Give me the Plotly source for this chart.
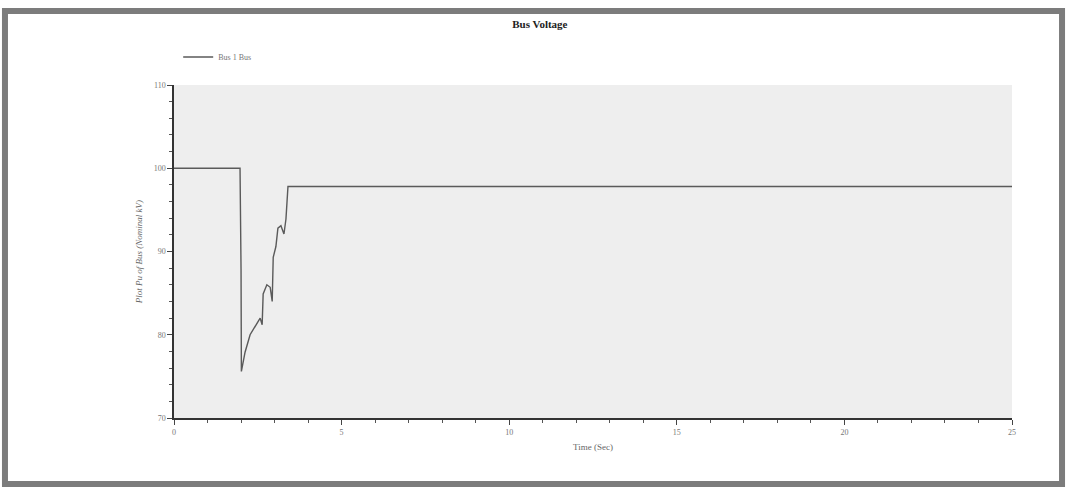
import plotly.graph_objects as go

# Bus voltage trace (percent of nominal) versus time in seconds
time_s = [0.0, 1.97, 2.0, 2.01, 2.12, 2.27, 2.57, 2.63, 2.66, 2.77, 2.87, 2.93,
          2.96, 3.04, 3.10, 3.19, 3.28, 3.34, 3.40, 3.46, 25.0]
voltage = [100.0, 100.0, 87.9, 75.6, 77.9, 80.0, 82.0, 81.2, 84.9, 86.0, 85.7, 84.0,
           89.3, 90.6, 92.8, 93.1, 92.1, 93.9, 97.8, 97.8, 97.8]

series_name = "Bus 1 Bus"
title_text = "Bus Voltage"
x_title = "Time (Sec)"
y_title = "Plot Pu of Bus (Nominal kV)"

serif = "Liberation Serif"

fig = go.Figure()
fig.add_trace(go.Scatter(
    x=time_s, y=voltage, mode="lines", name=series_name,
    line=dict(color="#5a5a5a", width=1.4),
))

# page frame around the chart
fig.add_shape(type="rect", xref="paper", yref="paper",
              x0=-0.2017, x1=1.0597, y0=-0.1982, y1=1.2222,
              line=dict(color="#7c7c7c", width=6), layer="below")

fig.update_layout(
    width=1069, height=489,
    margin=dict(l=174, r=57, t=85, b=71),
    paper_bgcolor="white",
    plot_bgcolor="#eeeeee",
    font=dict(family=serif, color="#333333", size=9),
    title=dict(text="<b>" + title_text + "</b>", x=0.505, xanchor="center",
               y=0.951, yanchor="middle", font=dict(family=serif, size=11, color="#222")),
    showlegend=True,
    legend=dict(x=0.005, y=1.084, xanchor="left", yanchor="middle", itemwidth=30,
                bgcolor="rgba(0,0,0,0)", font=dict(family=serif, size=8, color="#777")),
    xaxis=dict(
        range=[0, 25], dtick=5, tick0=0, showgrid=False, zeroline=False,
        showline=True, linecolor="#333", linewidth=2,
        ticks="outside", ticklen=5, tickcolor="#444", tickwidth=1,
        minor=dict(dtick=1, ticks="outside", ticklen=3, tickcolor="#555"),
        tickfont=dict(family=serif, size=8, color="#777"),
        title=dict(text=x_title, font=dict(family=serif, size=9, color="#666"), standoff=8),
    ),
    yaxis=dict(
        range=[70, 110], dtick=10, tick0=70, showgrid=False, zeroline=False,
        showline=True, linecolor="#333", linewidth=1.5,
        ticks="outside", ticklen=5, tickcolor="#444", tickwidth=1,
        minor=dict(dtick=2, ticks="outside", ticklen=3, tickcolor="#555"),
        tickfont=dict(family=serif, size=8, color="#777"),
        title=dict(text="<i>" + y_title + "</i>", font=dict(family=serif, size=9, color="#666"), standoff=10),
    ),
)

fig.write_html("out.html")
